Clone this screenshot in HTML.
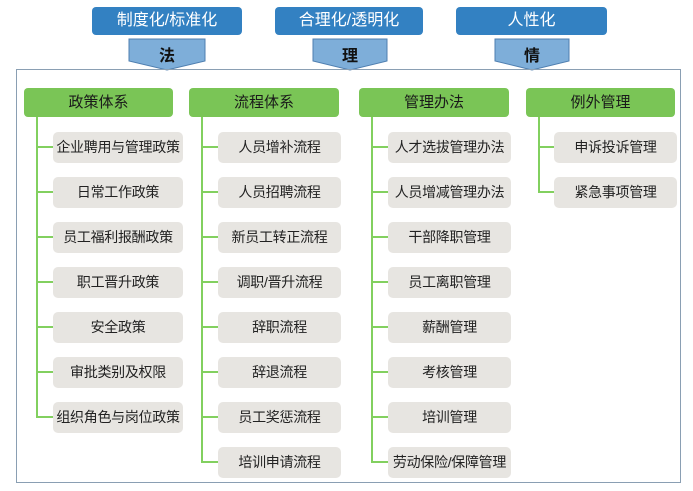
<!DOCTYPE html>
<html><head><meta charset="utf-8">
<style>
*{margin:0;padding:0;box-sizing:border-box}
body{width:693px;height:491px;background:#fff;position:relative;overflow:hidden;font-family:"Liberation Sans","Noto Sans CJK SC",sans-serif}
.tb{position:absolute;top:7px;height:28px;background:#3381c2;border-radius:4px;color:#fff;font-size:16px;line-height:28px;text-align:center}
.frame{position:absolute;left:16px;top:69px;width:665px;height:414px;border:1.5px solid #8a9fb3}
.gh{position:absolute;top:88px;height:29px;background:#7ac556;border-radius:4px;color:#1a1a1a;font-size:15px;line-height:29px;text-align:center}
.gb{position:absolute;height:31px;background:#e7e5e1;border-radius:5px;color:#222;font-size:14px;line-height:31px;text-align:center;white-space:nowrap;letter-spacing:-0.3px}
.vl{position:absolute;width:2px;background:#82d05f}
.hl{position:absolute;height:2px;background:#82d05f}
</style></head><body>
<div class="tb" style="left:92px;width:150px">制度化/标准化</div>
<div class="tb" style="left:275px;width:148px">合理化/透明化</div>
<div class="tb" style="left:456px;width:151px">人性化</div>

<svg style="position:absolute;left:0;top:0" width="693" height="80">
<polygon points="129,39 205,39 205,61 167,70 129,61" fill="#7eaed9" stroke="#4f7fb0" stroke-width="1"/>
<polygon points="313,39 387,39 387,61 350,70 313,61" fill="#7eaed9" stroke="#4f7fb0" stroke-width="1"/>
<polygon points="495,39 569,39 569,61 532,70 495,61" fill="#7eaed9" stroke="#4f7fb0" stroke-width="1"/>
<text x="167" y="61" font-size="16" font-weight="bold" text-anchor="middle" font-family="Noto Sans CJK SC, sans-serif" fill="#111">法</text>
<text x="350" y="61" font-size="16" font-weight="bold" text-anchor="middle" font-family="Noto Sans CJK SC, sans-serif" fill="#111">理</text>
<text x="532" y="61" font-size="16" font-weight="bold" text-anchor="middle" font-family="Noto Sans CJK SC, sans-serif" fill="#111">情</text>
</svg>

<div class="frame"></div>

<div class="gh" style="left:24px;width:149px">政策体系</div>
<div class="gh" style="left:189px;width:150px">流程体系</div>
<div class="gh" style="left:359px;width:150px">管理办法</div>
<div class="gh" style="left:526px;width:149px">例外管理</div>

<!-- col1 -->
<div class="vl" style="left:36px;top:117px;height:301px"></div>
<div class="hl" style="left:36px;top:146px;width:17px"></div>
<div class="hl" style="left:36px;top:191px;width:17px"></div>
<div class="hl" style="left:36px;top:236px;width:17px"></div>
<div class="hl" style="left:36px;top:281px;width:17px"></div>
<div class="hl" style="left:36px;top:326px;width:17px"></div>
<div class="hl" style="left:36px;top:371px;width:17px"></div>
<div class="hl" style="left:36px;top:416px;width:17px"></div>
<div class="gb" style="left:53px;top:132px;width:130px">企业聘用与管理政策</div>
<div class="gb" style="left:53px;top:177px;width:130px">日常工作政策</div>
<div class="gb" style="left:53px;top:222px;width:130px">员工福利报酬政策</div>
<div class="gb" style="left:53px;top:267px;width:130px">职工晋升政策</div>
<div class="gb" style="left:53px;top:312px;width:130px">安全政策</div>
<div class="gb" style="left:53px;top:357px;width:130px">审批类别及权限</div>
<div class="gb" style="left:53px;top:402px;width:130px">组织角色与岗位政策</div>

<!-- col2 -->
<div class="vl" style="left:201px;top:117px;height:346px"></div>
<div class="hl" style="left:201px;top:146px;width:17px"></div>
<div class="hl" style="left:201px;top:191px;width:17px"></div>
<div class="hl" style="left:201px;top:236px;width:17px"></div>
<div class="hl" style="left:201px;top:281px;width:17px"></div>
<div class="hl" style="left:201px;top:326px;width:17px"></div>
<div class="hl" style="left:201px;top:371px;width:17px"></div>
<div class="hl" style="left:201px;top:416px;width:17px"></div>
<div class="hl" style="left:201px;top:461px;width:17px"></div>
<div class="gb" style="left:218px;top:132px;width:123px">人员增补流程</div>
<div class="gb" style="left:218px;top:177px;width:123px">人员招聘流程</div>
<div class="gb" style="left:218px;top:222px;width:123px">新员工转正流程</div>
<div class="gb" style="left:218px;top:267px;width:123px">调职/晋升流程</div>
<div class="gb" style="left:218px;top:312px;width:123px">辞职流程</div>
<div class="gb" style="left:218px;top:357px;width:123px">辞退流程</div>
<div class="gb" style="left:218px;top:402px;width:123px">员工奖惩流程</div>
<div class="gb" style="left:218px;top:447px;width:123px">培训申请流程</div>

<!-- col3 -->
<div class="vl" style="left:371px;top:117px;height:346px"></div>
<div class="hl" style="left:371px;top:146px;width:17px"></div>
<div class="hl" style="left:371px;top:191px;width:17px"></div>
<div class="hl" style="left:371px;top:236px;width:17px"></div>
<div class="hl" style="left:371px;top:281px;width:17px"></div>
<div class="hl" style="left:371px;top:326px;width:17px"></div>
<div class="hl" style="left:371px;top:371px;width:17px"></div>
<div class="hl" style="left:371px;top:416px;width:17px"></div>
<div class="hl" style="left:371px;top:461px;width:17px"></div>
<div class="gb" style="left:388px;top:132px;width:123px">人才选拔管理办法</div>
<div class="gb" style="left:388px;top:177px;width:123px">人员增减管理办法</div>
<div class="gb" style="left:388px;top:222px;width:123px">干部降职管理</div>
<div class="gb" style="left:388px;top:267px;width:123px">员工离职管理</div>
<div class="gb" style="left:388px;top:312px;width:123px">薪酬管理</div>
<div class="gb" style="left:388px;top:357px;width:123px">考核管理</div>
<div class="gb" style="left:388px;top:402px;width:123px">培训管理</div>
<div class="gb" style="left:388px;top:447px;width:123px">劳动保险/保障管理</div>

<!-- col4 -->
<div class="vl" style="left:538px;top:117px;height:76px"></div>
<div class="hl" style="left:538px;top:146px;width:16px"></div>
<div class="hl" style="left:538px;top:191px;width:16px"></div>
<div class="gb" style="left:554px;top:132px;width:123px">申诉投诉管理</div>
<div class="gb" style="left:554px;top:177px;width:123px">紧急事项管理</div>
</body></html>
